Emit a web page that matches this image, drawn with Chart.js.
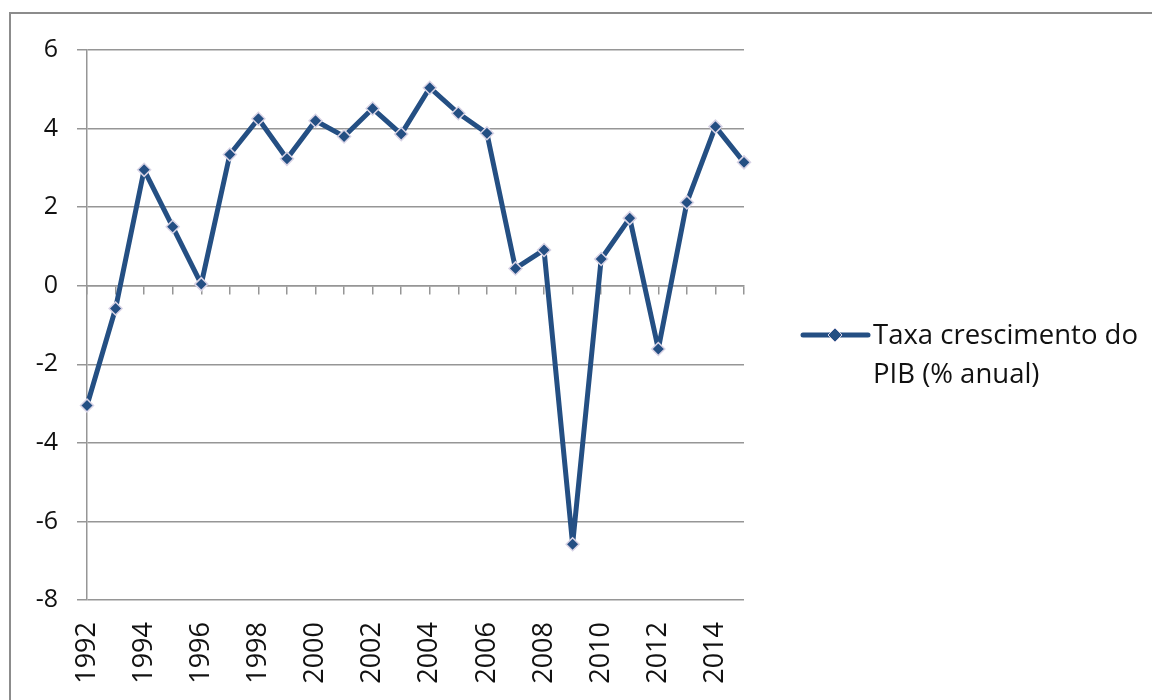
<!DOCTYPE html>
<html>
<head>
<meta charset="utf-8">
<script src="https://cdn.jsdelivr.net/npm/chart.js@4.4.0/dist/chart.umd.min.js"></script>
<style>
    html, body { margin: 0; padding: 0; background: #fff; }
    #wrap { position: relative; width: 1152px; height: 700px; overflow: hidden; }
    #frame {
        position: absolute; left: 9px; top: 12px; right: -10px; bottom: -10px;
        border-top: 2px solid #8c8c8c; border-left: 2px solid #8c8c8c;
    }
    #chart { position: absolute; left: 0; top: 0; }
    #legend {
        position: absolute; left: 800px; top: 314px;
        font-family: "Open Sans", sans-serif; font-size: 27.5px; line-height: 39px; color: #111;
    }
    #legend svg { position: absolute; left: 0; top: 10px; }
    #legend .txt { position: absolute; left: 73px; top: 0; white-space: nowrap; }
</style>
</head>
<body>
<div id="wrap">
    <div id="frame"></div>
    <canvas id="chart" width="1152" height="700"></canvas>
    <div id="legend">
        <svg width="72" height="24">
            <line x1="3" y1="11" x2="68" y2="11" stroke="#244F83" stroke-width="5" stroke-linecap="round"/>
            <polygon points="35,4 42,11 35,18 28,11" fill="#244F83" stroke="#d9d4e6" stroke-width="1"/>
        </svg>
        <div class="txt">Taxa crescimento do<br>PIB (% anual)</div>
    </div>
</div>
<script>
// Taxa de crescimento do PIB (% anual)
const years = ['1992', '1993', '1994', '1995', '1996', '1997', '1998', '1999', '2000', '2001', '2002', '2003',
               '2004', '2005', '2006', '2007', '2008', '2009', '2010', '2011', '2012', '2013', '2014', '2015'];
const gdpGrowth = [-3.05, -0.58, 2.95, 1.50, 0.04, 3.34, 4.25, 3.23, 4.20, 3.80, 4.51, 3.86,
                   5.04, 4.39, 3.88, 0.44, 0.91, -6.58, 0.68, 1.72, -1.61, 2.12, 4.05, 3.14];
const yTicks = [-8, -6, -4, -2, 0, 2, 4, 6];

const gridGray = '#969696';
const serieColor = '#244F83';

const ctx = document.getElementById('chart');

new Chart(ctx.getContext('2d'), {
    type: 'line',
    data: {
        labels: years,
        datasets: [{
            label: 'Taxa crescimento do PIB (% anual)',
            data: gdpGrowth,
            borderColor: serieColor,
            borderWidth: 5,
            borderJoinStyle: 'round',
            borderCapStyle: 'round',
            tension: 0,
            fill: false,
            pointStyle: 'rectRot',
            pointRadius: 6.5,
            pointBackgroundColor: serieColor,
            pointBorderColor: '#d9d4e6',
            pointBorderWidth: 1.5
        }]
    },
    options: {
        responsive: false,
        animation: false,
        layout: {
            padding: { top: 50, right: 408, bottom: 0, left: 0 }
        },
        plugins: {
            legend: { display: false },
            tooltip: { enabled: false }
        },
        scales: {
            x: {
                position: 'bottom',
                offset: false,
                grid: { display: false, drawTicks: false },
                border: { display: false },
                ticks: {
                    autoSkip: false,
                    minRotation: 90,
                    maxRotation: 90,
                    padding: 22,
                    color: '#111',
                    font: { family: 'Open Sans', size: 27 },
                    callback: function(value, index) {
                        return index % 2 === 0 ? years[index] : '';
                    }
                },
                afterFit: function(scale) { scale.height = 100; }
            },
            // axe des catégories croisé à zéro (marques seulement)
            xZero: {
                type: 'category',
                labels: years,
                position: { y: 0 },
                offset: false,
                grid: {
                    drawOnChartArea: false,
                    drawTicks: true,
                    tickLength: 8,
                    color: gridGray,
                    lineWidth: 1.5
                },
                border: { display: true, color: gridGray, width: 1.5 },
                ticks: { display: false }
            },
            y: {
                min: -8,
                max: 6,
                afterBuildTicks: function(scale) {
                    scale.ticks = yTicks.map(v => ({ value: v }));
                },
                grid: {
                    color: gridGray,
                    lineWidth: 1.5,
                    tickLength: 10
                },
                border: { display: true, color: gridGray, width: 1.5 },
                ticks: {
                    padding: 19,
                    color: '#111',
                    font: { family: 'Open Sans', size: 25 }
                },
                afterFit: function(scale) { scale.width = 87; }
            }
        }
    }
});
</script>
</body>
</html>
